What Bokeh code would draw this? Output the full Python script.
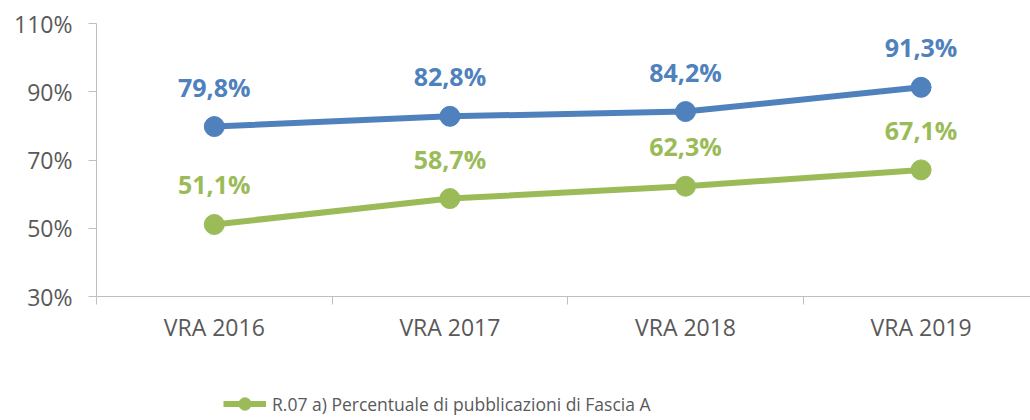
from bokeh.plotting import figure
from bokeh.layouts import column
from bokeh.models import (Range1d, FixedTicker, ColumnDataSource, LabelSet,
                          Legend, LegendItem)
from bokeh.core.properties import value
from bokeh.embed import file_html
from bokeh.resources import INLINE

categories = ["VRA 2016", "VRA 2017", "VRA 2018", "VRA 2019"]
blue_values = [79.8, 82.8, 84.2, 91.3]
green_values = [51.1, 58.7, 62.3, 67.1]
y_ticks = [30, 50, 70, 90, 110]
green_name = "R.07 a) Percentuale di pubblicazioni di Fascia A"

BLUE = "#4f81bd"
GREEN = "#9bbb59"
AXIS = "#bfbfbf"
TXT = "#595959"
FONT = "Open Sans"

xs = list(range(1, len(categories) + 1))

def fmt(v):
    return ("%.1f%%" % v).replace(".", ",")

src_b = ColumnDataSource(dict(x=xs, y=blue_values, t=[fmt(v) for v in blue_values]))
src_g = ColumnDataSource(dict(x=xs, y=green_values, t=[fmt(v) for v in green_values]))

p = figure(width=1030, height=380, output_backend="svg", toolbar_location=None,
           x_range=Range1d(0.5, 0.5 + 934 / 235.6), y_range=Range1d(30, 110),
           min_border_left=96, min_border_right=0, min_border_top=23,
           min_border_bottom=84)
p.outline_line_color = None
p.xgrid.visible = False
p.ygrid.visible = False
p.background_fill_color = "white"
p.border_fill_color = "white"

# y axis
p.yaxis.ticker = FixedTicker(ticks=y_ticks)
p.yaxis.major_label_overrides = {t: "%d%%" % t for t in y_ticks}
p.yaxis.axis_line_color = AXIS
p.yaxis.major_tick_line_color = AXIS
p.yaxis.major_tick_out = 8
p.yaxis.major_tick_in = 0
p.yaxis.minor_tick_line_color = None
p.yaxis.major_label_text_font = FONT
p.yaxis.major_label_text_font_size = "23px"
p.yaxis.major_label_text_color = TXT
p.yaxis.major_label_standoff = 16

# x axis
p.xaxis.ticker = FixedTicker(ticks=xs, minor_ticks=[x - 0.5 for x in xs] + [xs[-1] + 0.5])
p.xaxis.major_label_overrides = {x: c for x, c in zip(xs, categories)}
p.xaxis.axis_line_color = AXIS
p.xaxis.major_tick_line_color = None
p.xaxis.minor_tick_line_color = AXIS
p.xaxis.minor_tick_out = 8
p.xaxis.minor_tick_in = 0
p.xaxis.major_label_text_font = FONT
p.xaxis.major_label_text_font_size = "23px"
p.xaxis.major_label_text_color = TXT
p.xaxis.major_label_standoff = 6

# series
p.line("x", "y", source=src_g, line_color=GREEN, line_width=6)
p.scatter("x", "y", source=src_g, size=20, fill_color=GREEN, line_color=GREEN)
p.line("x", "y", source=src_b, line_color=BLUE, line_width=6)
p.scatter("x", "y", source=src_b, size=20, fill_color=BLUE, line_color=BLUE)

for src, col in ((src_b, BLUE), (src_g, GREEN)):
    p.add_layout(LabelSet(x="x", y="y", text="t", source=src, y_offset=30,
                          text_align="center", text_baseline="alphabetic",
                          text_color=col, text_font=value(FONT), text_font_style="bold",
                          text_font_size="25px"))

# legend strip (separate figure under the chart; frames are aligned by the column)
q = figure(width=1030, height=40, output_backend="svg", toolbar_location=None,
           x_range=Range1d(0, 1), y_range=Range1d(0, 1),
           x_axis_type=None, y_axis_type=None,
           min_border_left=0, min_border_right=0, min_border_top=0,
           min_border_bottom=0)
q.grid.visible = False
q.outline_line_color = None
q.background_fill_color = "white"
q.border_fill_color = "white"
# legend proxy renderers, placed outside the visible ranges
lg = q.line(x=[-5, -4], y=[-5, -5], line_color=GREEN, line_width=6)
ls = q.scatter(x=[-5], y=[-5], size=13, fill_color=GREEN, line_color=GREEN)
legend = Legend(items=[LegendItem(label=green_name, renderers=[lg, ls])],
                location=(127, 1), orientation="horizontal",
                border_line_color=None, background_fill_alpha=0,
                padding=0, margin=0, spacing=0,
                glyph_width=43, glyph_height=31, label_standoff=6,
                label_text_font=FONT, label_text_font_size="17.5px",
                label_text_color=TXT, label_height=31)
q.add_layout(legend, "center")

layout = column(p, q, spacing=0)
open("out.html", "w").write(file_html(layout, INLINE))
